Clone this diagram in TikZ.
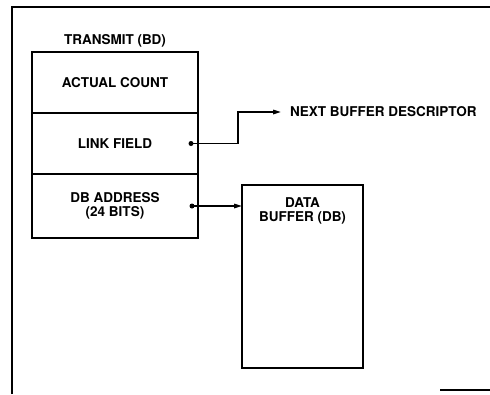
\documentclass[tikz,border=0pt]{standalone}
\usepackage{fontspec}
\setmainfont{TeX Gyre Heros}
\usetikzlibrary{arrows.meta, positioning}

\begin{document}
\begin{tikzpicture}[
    x=1pt, y=-1pt,
    node distance=0pt,
    cell/.style={rectangle, draw, line width=1.8pt, minimum width=166pt,
                 minimum height=61pt, align=center, inner sep=0pt, outer sep=0pt,
                 font=\fontsize{13.5}{14}\selectfont\bfseries},
    bufbox/.style={rectangle, draw, line width=1.8pt, minimum width=121pt,
                   minimum height=183pt, inner sep=0pt, outer sep=0pt},
    lbl/.style={align=center, inner sep=2pt, font=\fontsize{13.5}{14}\selectfont\bfseries},
    dot/.style={circle, fill, inner sep=0pt, minimum size=5pt},
    arrow/.style={-{Triangle[length=8pt, width=4.5pt]}, line width=1.5pt}
]
  \useasboundingbox (0,0) rectangle (490,394);

  % page frame
  \draw[line width=2pt] (12,394) -- (12,7) -- (490,7);
  \draw[line width=2pt] (440,390) -- (490,390);

  % buffer descriptor
  \node[cell] (count) at (115,82.5) {ACTUAL COUNT};
  \node[cell, below=of count] (link) {LINK FIELD};
  \node[cell, below=of link, minimum height=64pt] (addr) {DB ADDRESS\\(24 BITS)};
  \node[lbl, above=3pt of count] (title) {TRANSMIT (BD)};

  \node[dot] (linkdot) at ([xshift=-7pt]link.east) {};
  \node[dot] (addrdot) at ([xshift=-6pt]addr.east) {};

  % data buffer
  \node[bufbox] (db) at (302.5,276.5) {};
  \node[lbl, below=10pt of db.north] (dbtext) {DATA\\BUFFER (DB)};

  \node[lbl, anchor=west, inner xsep=9pt] (next) at (281,112) {NEXT BUFFER DESCRIPTOR};
  \coordinate (bend) at (238,0);

  \draw[arrow] (linkdot.center) -- (linkdot.center -| bend) |- (next.west);
  \draw[arrow] (addrdot.center) -- (addrdot.center -| db.west);
\end{tikzpicture}
\end{document}
